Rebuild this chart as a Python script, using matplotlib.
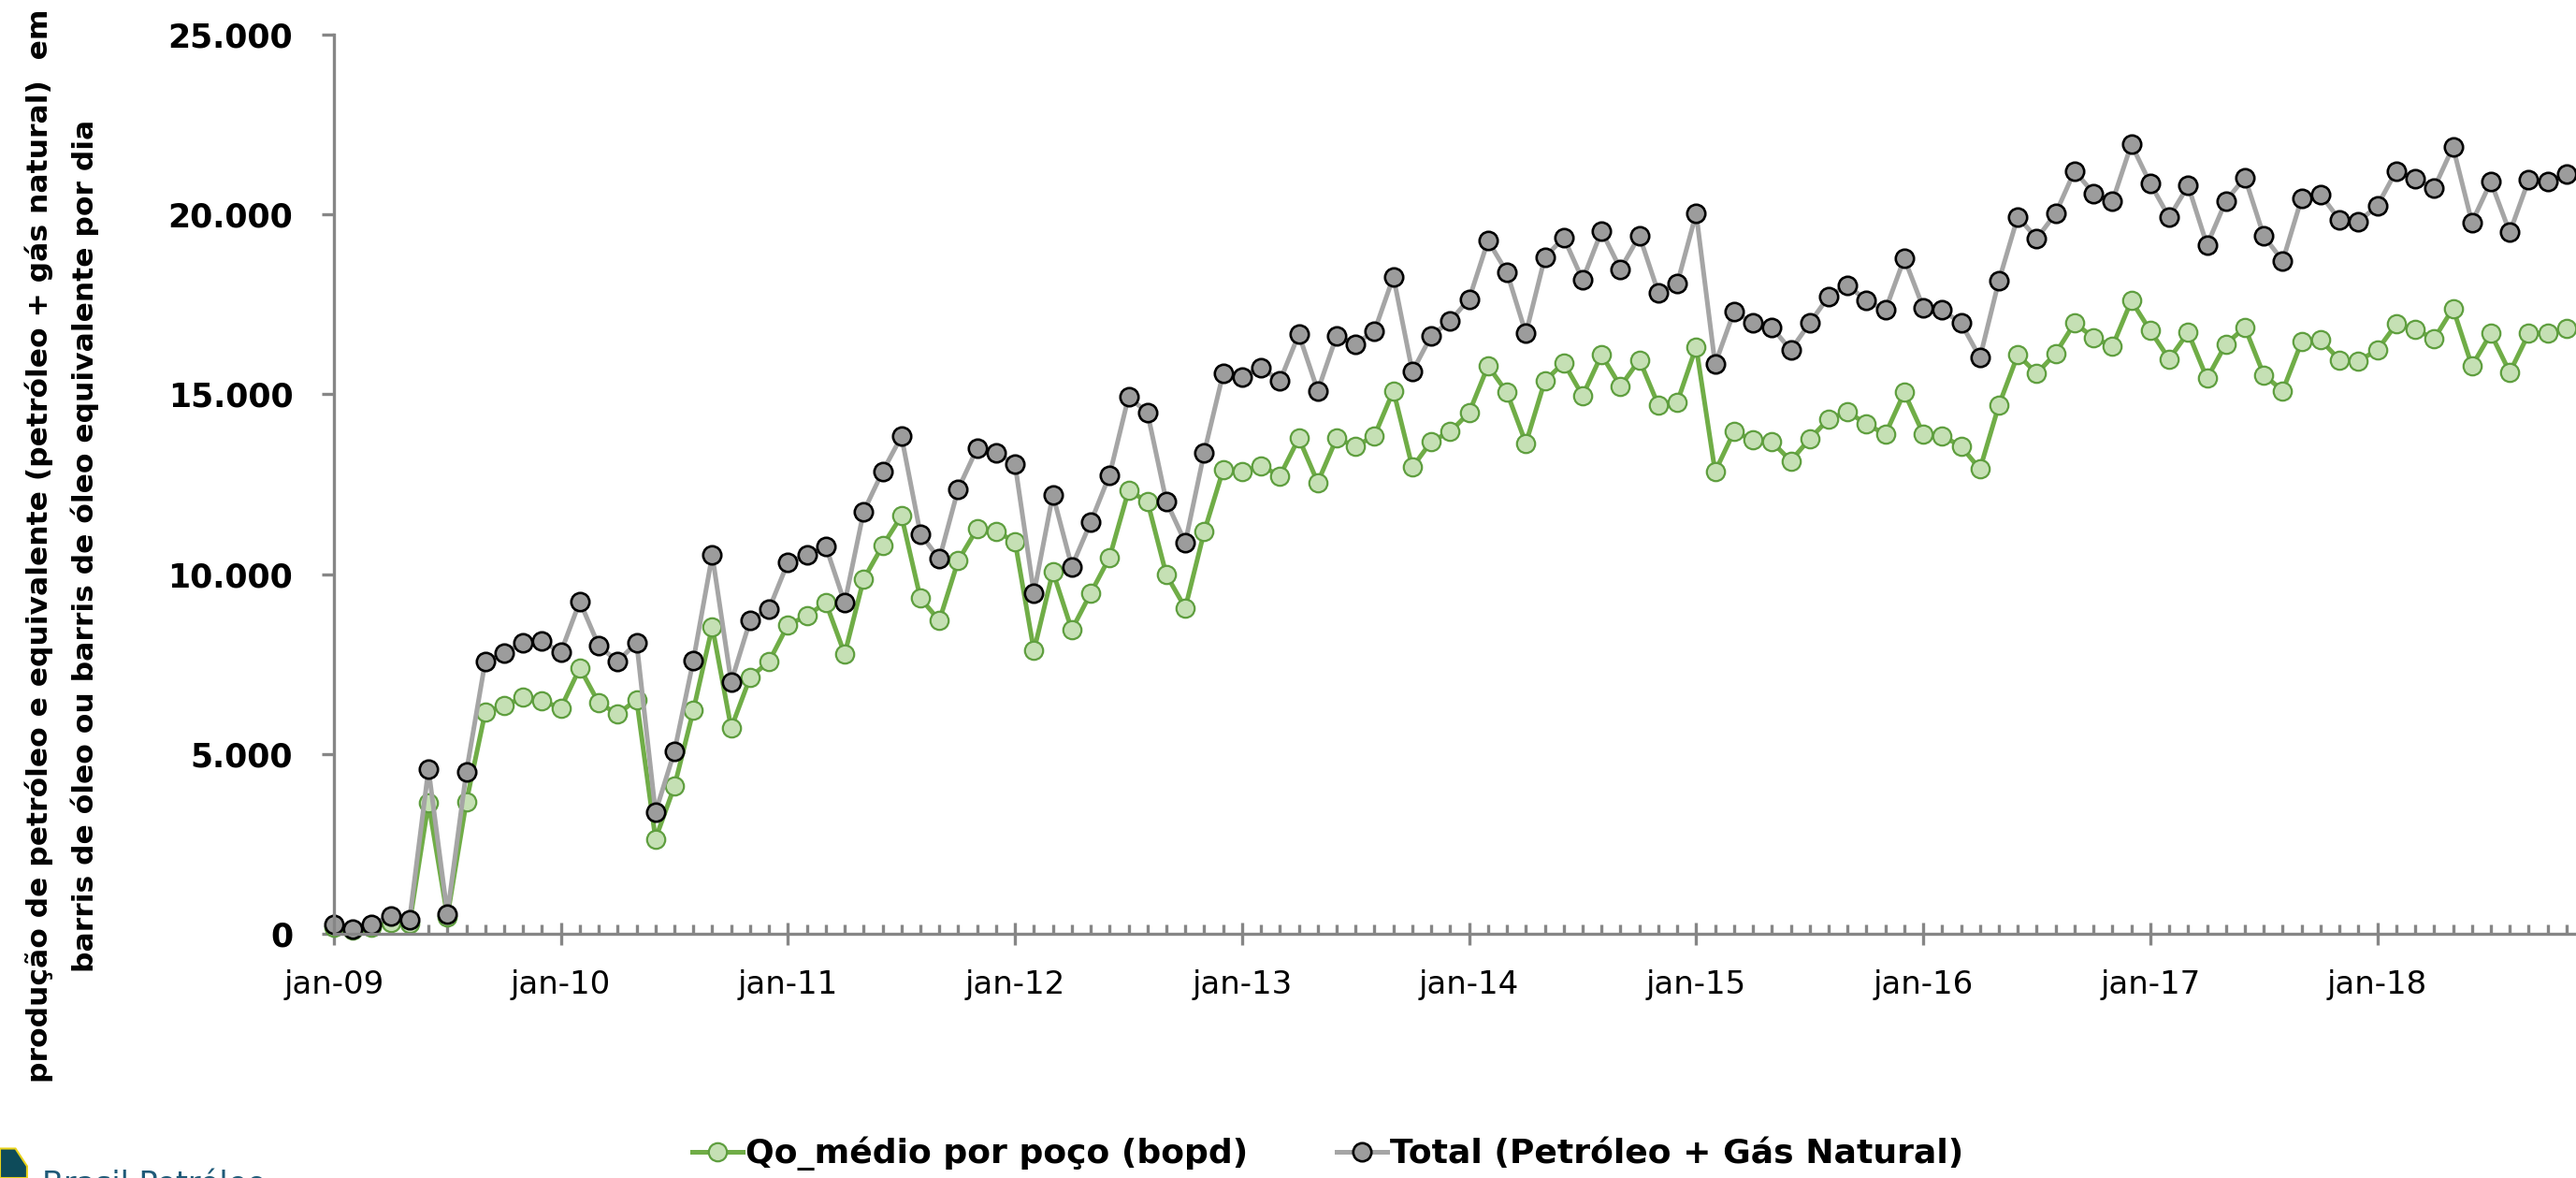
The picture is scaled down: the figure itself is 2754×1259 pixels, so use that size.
import matplotlib
matplotlib.use("Agg")
import matplotlib.pyplot as plt
from matplotlib.patches import Polygon
import numpy as np

# meses jan-09 .. nov-18
anos = ["09", "10", "11", "12", "13", "14", "15", "16", "17", "18"]
rotulos_x = ["jan-" + a for a in anos]

# Total (Petróleo + Gás Natural) em boe/d
total = [
    260, 130, 260, 500, 390, 4580, 550, 4490, 7570, 7800, 8100, 8130,
    7830, 9240, 8010, 7570, 8100, 3380, 5070, 7600, 10530, 7000, 8710, 9030,
    10330, 10530, 10770, 9200, 11740, 12850, 13830, 11120, 10420, 12370, 13500, 13380,
    13060, 9470, 12210, 10210, 11440, 12760, 14930, 14490, 12020, 10880, 13380, 15580,
    15490, 15750, 15370, 16670, 15100, 16630, 16400, 16760, 18270, 15630, 16630, 17040,
    17650, 19270, 18390, 16690, 18800, 19360, 18180, 19540, 18480, 19410, 17830, 18080,
    20030, 15840, 17300, 16980, 16860, 16230, 16980, 17720, 18040, 17600, 17340, 18780,
    17410, 17340, 16980, 16020, 18160, 19940, 19330, 20030, 21210, 20590, 20360, 21950,
    20860, 19920, 20800, 19150, 20380, 21030, 19400, 18710, 20450, 20560, 19850, 19800,
    20240, 21210, 21000, 20730, 21880, 19780, 20910, 19500, 20960, 20910, 21120,
]

# Qo_médio por poço (bopd)
qo_medio = [
    180, 100, 180, 300, 280, 3640, 480, 3660, 6160, 6340, 6570, 6480,
    6280, 7390, 6420, 6110, 6510, 2640, 4100, 6210, 8540, 5720, 7130, 7570,
    8590, 8840, 9210, 7780, 9860, 10790, 11620, 9330, 8710, 10380, 11260, 11180,
    10910, 7870, 10070, 8450, 9470, 10470, 12320, 12020, 9980, 9060, 11180, 12900,
    12850, 13020, 12730, 13780, 12550, 13780, 13550, 13850, 15100, 12970, 13690, 13960,
    14490, 15790, 15050, 13640, 15370, 15880, 14960, 16100, 15220, 15960, 14700, 14780,
    16320, 12850, 13960, 13730, 13680, 13150, 13760, 14310, 14520, 14170, 13890, 15050,
    13900, 13850, 13550, 12920, 14700, 16100, 15580, 16140, 16980, 16580, 16330, 17600,
    16770, 15980, 16720, 15440, 16400, 16860, 15540, 15100, 16460, 16510, 15960, 15930,
    16230, 16950, 16810, 16540, 17390, 15790, 16690, 15610, 16690, 16690, 16840,
]

meses = np.arange(len(total))

fig = plt.figure(figsize=(27.54, 12.59), dpi=100)
ax = fig.add_axes([0.1296, 0.2073, 0.8704, 0.7633])

cinza_eixo = "#868686"

ax.plot(meses, qo_medio, color="#70AD47", lw=3.6, marker="o", ms=14,
        mfc="#C5E0B4", mec="#5E9E3E", mew=1.6, clip_on=False,
        label="Qo_médio por poço (bopd)")
ax.plot(meses, total, color="#A5A5A5", lw=3.6, marker="o", ms=14,
        mfc="#9C9C9C", mec="black", mew=1.9, clip_on=False,
        label="Total (Petróleo + Gás Natural)")

ax.set_xlim(0, len(total) - 0.5)
ax.set_ylim(0, 25000)

ax.set_xticks(np.arange(0, len(total), 12))
ax.set_xticklabels(rotulos_x, fontsize=24.5)
ax.set_xticks(meses, minor=True)
ax.tick_params(axis="x", which="major", direction="inout", length=17, width=2.4,
               color=cinza_eixo, pad=19)
ax.tick_params(axis="x", which="minor", direction="in", length=7, width=2.4,
               color=cinza_eixo)

yt = np.arange(0, 25001, 5000)
ax.set_yticks(yt)
ax.set_yticklabels([f"{v:,.0f}".replace(",", ".") for v in yt],
                   fontsize=25, fontweight="bold")
ax.tick_params(axis="y", direction="out", length=9.4, width=2.4,
               color=cinza_eixo, pad=22)

for s in ["top", "right"]:
    ax.spines[s].set_visible(False)
for s in ["left", "bottom"]:
    ax.spines[s].set_color(cinza_eixo)
    ax.spines[s].set_linewidth(2.4)

fig.text(0.0152, 0.537,
         "produção de petróleo e equivalente (petróleo + gás natural)  em",
         rotation=90, ha="center", va="center", fontsize=22.6, fontweight="bold")
fig.text(0.0330, 0.537,
         "barris de óleo ou barris de óleo equivalente por dia",
         rotation=90, ha="center", va="center", fontsize=22.6, fontweight="bold")

fig.legend(loc="center", bbox_to_anchor=(0.5155, 0.0207), ncol=2,
           frameon=False, prop={"size": 26, "weight": "bold"},
           handlelength=1.5, handletextpad=0.1, columnspacing=2.6)

# logo (cortado na borda inferior, como na imagem original)
fig.patches.append(Polygon([[0, 0.0], [0.0, 0.025], [0.006, 0.025], [0.0105, 0.01], [0.0105, 0.0]],
                           closed=True, transform=fig.transFigure,
                           facecolor="#0E4B5A", edgecolor="#E8D21A", lw=1.5))
fig.text(0.0165, 0.0075, "Brasil Petróleo", fontsize=24, color="#1F5A78",
         ha="left", va="top")

fig.savefig("out.png", dpi=100)
